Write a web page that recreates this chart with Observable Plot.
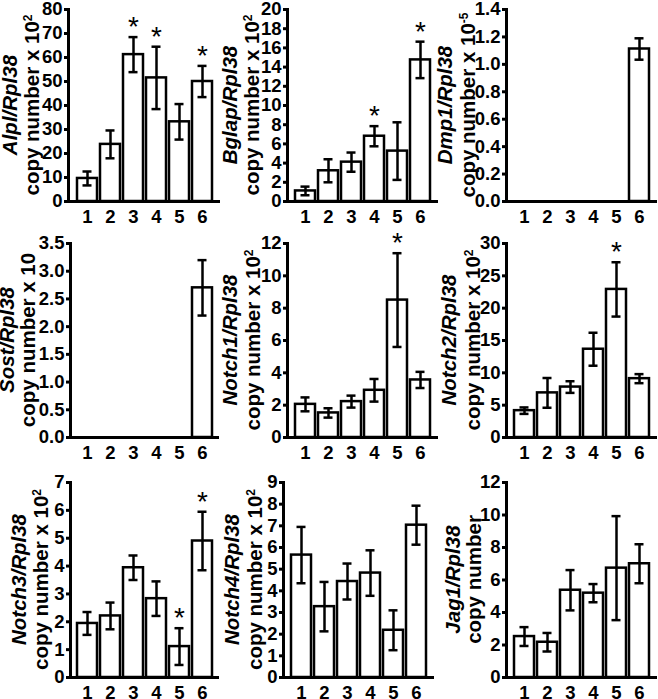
<!DOCTYPE html>
<html><head><meta charset="utf-8">
<script src="https://cdn.jsdelivr.net/npm/d3@7"></script>
<script src="https://cdn.jsdelivr.net/npm/@observablehq/plot@0.6"></script>
<style>
body{margin:0;background:#fff;}
#root{position:relative;width:658px;height:699px;overflow:hidden;background:#fff;font-family:"Liberation Sans",Arial,sans-serif;}
.panel{position:absolute;}
.panel svg{overflow:visible;}
</style></head><body><div id="root"></div>
<script>
const groups = ["1","2","3","4","5","6"];

const alplMean = [9.6, 23.8, 61.2, 51.5, 33.2, 50.0];
const alplErr  = [2.9, 5.8, 7.3, 13.0, 7.4, 6.5];
const alplSig  = [0,0,1,1,0,1];

const bglapMean = [1.1, 3.2, 4.1, 6.8, 5.25, 14.75];
const bglapErr  = [0.45, 1.2, 1.0, 1.05, 3.0, 1.9];
const bglapSig  = [0,0,0,1,0,1];

const dmp1Mean = [0,0,0,0,0,1.112];
const dmp1Err  = [0,0,0,0,0,0.078];
const dmp1Sig  = [0,0,0,0,0,0];

const sostMean = [0,0,0,0,0,2.7];
const sostErr  = [0,0,0,0,0,0.5];
const sostSig  = [0,0,0,0,0,0];

const notch1Mean = [2.05, 1.52, 2.22, 2.92, 8.5, 3.56];
const notch1Err  = [0.43, 0.29, 0.37, 0.7, 2.9, 0.5];
const notch1Sig  = [0,0,0,0,1,0];

const notch2Mean = [4.15, 6.9, 7.8, 13.65, 22.9, 9.1];
const notch2Err  = [0.5, 2.3, 0.9, 2.55, 4.2, 0.7];
const notch2Sig  = [0,0,0,0,1,0];

const notch3Mean = [1.94, 2.21, 3.94, 2.83, 1.11, 4.9];
const notch3Err  = [0.41, 0.48, 0.44, 0.62, 0.66, 1.05];
const notch3Sig  = [0,0,0,0,1,1];

const notch4Mean = [5.65, 3.27, 4.43, 4.82, 2.18, 7.03];
const notch4Err  = [1.3, 1.14, 0.83, 1.05, 0.92, 0.9];
const notch4Sig  = [0,0,0,0,0,0];

const jag1Mean = [2.52, 2.17, 5.37, 5.19, 6.73, 7.0];
const jag1Err  = [0.58, 0.57, 1.24, 0.56, 3.2, 1.2];
const jag1Sig  = [0,0,0,0,0,0];

const genes = ["Alpl","Bglap","Dmp1","Sost","Notch1","Notch2","Notch3","Notch4","Jag1"];
const unitText = ["copy number x 10","copy number x 10","copy number x 10","copy number x 10","copy number x 10","copy number x 10","copy number x 10","copy number x 10","copy number"];
const unitSup = ["2","2","-5","","2","2","2","2",""];
const yMax = [80, 20, 1.4, 3.5, 12, 30, 7, 9, 12];
const yStep = [10, 2, 0.2, 0.5, 2, 5, 1, 1, 2];
const yFmt = ["d","d",".1f",".1f","d","d","d","d","d"];
const means = [alplMean,bglapMean,dmp1Mean,sostMean,notch1Mean,notch2Mean,notch3Mean,notch4Mean,jag1Mean];
const errs = [alplErr,bglapErr,dmp1Err,sostErr,notch1Err,notch2Err,notch3Err,notch4Err,jag1Err];
const sigs = [alplSig,bglapSig,dmp1Sig,sostSig,notch1Sig,notch2Sig,notch3Sig,notch4Sig,jag1Sig];

// layout
const rowTop = [0, 234, 473];
const rowMTop = [9, 9, 9];
const rowPlotH = [192, 194, 195];
const colLeft = [0, 220, 438];
const rowRight = [[220,438,657],[219,438,657],[219,434,657]];
const rowAxis = [[68,287,506],[70,287,506],[70,283,506]];
const labX1 = [-56,-55,-59,-61,-55,-55,-49,-49,-51];
const labX2 = [-34,-33,-36,-40,-32,-31,-27,-26,-30];
const mBottom = 26;

const root = document.getElementById("root");
const FONT = '"Liberation Sans", Arial, sans-serif';

genes.forEach((gene, k) => {
  const r = Math.floor(k/3), c = k%3;
  const left = colLeft[c], right = rowRight[r][c], axisX = rowAxis[r][c];
  const W = right - left, ML = axisX - left;
  const mTop = rowMTop[r], plotH = rowPlotH[r];
  const data = groups.map((g,i)=>({g, v: means[k][i], e: errs[k][i], s: sigs[k][i]}));
  const bars = data.filter(d => d.v > 0);
  const ticks = d3.range(0, yMax[k] + yStep[k]/2, yStep[k]);
  const plot = Plot.plot({
    width: W, height: mTop + plotH + mBottom,
    marginTop: mTop, marginBottom: mBottom, marginLeft: ML, marginRight: 0,
    style: {fontFamily: FONT, fontSize: "18.5px", fontWeight: "bold", color: "black", background: "transparent", overflow: "visible"},
    x: {domain: groups, paddingInner: 0.15, paddingOuter: 0.31, axis: null},
    y: {domain: [0, yMax[k]], axis: null},
    marks: [
      Plot.barY(bars, {x: "g", y: "v", fill: "white", stroke: "black", strokeWidth: 2.5}),
      Plot.ruleX(bars, {x: "g", y1: d => d.v - d.e, y2: d => d.v + d.e, stroke: "black", strokeWidth: 2.5}),
      Plot.tickY(bars, {x: "g", y: d => d.v + d.e, insetLeft: 5.5, insetRight: 5.5, stroke: "black", strokeWidth: 2.5}),
      Plot.tickY(bars, {x: "g", y: d => d.v - d.e, insetLeft: 5.5, insetRight: 5.5, stroke: "black", strokeWidth: 2.5}),
      Plot.text(bars.filter(d => d.s), {x: "g", y: d => d.v + d.e, text: () => "*", dy: -10, fontSize: 28, fontWeight: "normal", fill: "black"}),
      Plot.axisY({ticks, tickFormat: d3.format(yFmt[k]), tickSize: 4, tickPadding: 2, strokeWidth: 3, fontSize: 18.5, fontWeight: "bold", label: null}),
      Plot.axisX({tickSize: 0, tickPadding: 8, fontSize: 18.5, fontWeight: "bold", label: null}),
      Plot.frame({anchor: "left", stroke: "black", strokeWidth: 3}),
      Plot.ruleY([0], {stroke: "black", strokeWidth: 3})
    ]
  });
  const div = document.createElement("div");
  div.className = "panel";
  div.style.left = left + "px";
  div.style.top = rowTop[r] + "px";
  div.appendChild(plot);
  root.appendChild(div);

  const svg = d3.select(plot.tagName.toLowerCase() === "svg" ? plot : plot.querySelector("svg"));
  const ymid = mTop + plotH/2;
  const fs = 20.5;
  svg.append("text")
    .attr("transform", `translate(${ML + labX1[k] + 5},${ymid}) rotate(-90)`)
    .attr("text-anchor", "middle")
    .style("font-family", FONT).style("font-size", fs + "px").style("font-weight", "bold").style("font-style", "italic")
    .text(gene + "/Rpl38");
  const t2 = svg.append("text")
    .attr("transform", `translate(${ML + labX2[k] + 5},${ymid}) rotate(-90)`)
    .attr("text-anchor", "middle")
    .style("font-family", FONT).style("font-size", fs + "px").style("font-weight", "bold");
  t2.append("tspan").text(unitText[k]);
  if (unitSup[k]) t2.append("tspan").attr("dy", "-0.55em").style("font-size", "12px").text(unitSup[k]);
});
</script>
</body></html>
